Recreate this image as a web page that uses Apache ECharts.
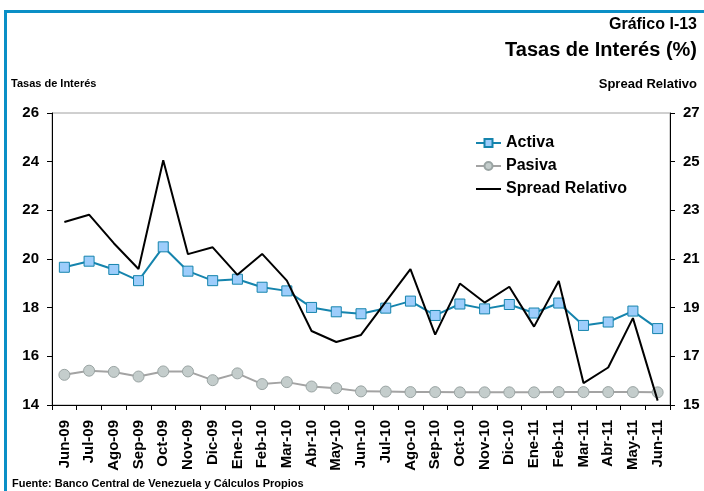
<!DOCTYPE html>
<html>
<head>
<meta charset="utf-8">
<script src="https://cdn.jsdelivr.net/npm/echarts@6/dist/echarts.min.js"></script>
<style>
html,body{margin:0;padding:0;background:#fff;}
#c{width:704px;height:491px;}
</style>
</head>
<body>
<div id="c"></div>
<script>
const categories = ["Jun-09","Jul-09","Ago-09","Sep-09","Oct-09","Nov-09","Dic-09","Ene-10","Feb-10","Mar-10","Abr-10","May-10","Jun-10","Jul-10","Ago-10","Sep-10","Oct-10","Nov-10","Dic-10","Ene-11","Feb-11","Mar-11","Abr-11","May-11","Jun-11"];
const activa = [19.66,19.91,19.57,19.11,20.50,19.50,19.11,19.17,18.84,18.69,18.01,17.83,17.75,17.98,18.27,17.68,18.15,17.95,18.13,17.78,18.19,17.27,17.41,17.86,17.14];
const pasiva = [15.24,15.41,15.36,15.17,15.38,15.38,15.02,15.30,14.86,14.94,14.76,14.69,14.56,14.55,14.53,14.53,14.52,14.52,14.52,14.52,14.53,14.53,14.53,14.53,14.52];
const spread = [22.52,22.82,21.65,20.59,25.06,21.20,21.48,20.35,21.21,20.11,18.04,17.59,17.88,19.24,20.58,17.89,19.99,19.21,19.86,18.22,20.10,15.90,16.54,18.57,15.18];
const leftTicks = {min:14, max:26, interval:2};
const rightTicks = {min:15, max:27, interval:2};

const FONT = '"Liberation Sans", Arial, sans-serif';
const chart = echarts.init(document.getElementById('c'), null, {renderer:'canvas'});
const frameColor = '#0a8fc6';
chart.setOption({
  backgroundColor:'#fff',
  animation:false,
  textStyle:{fontFamily:FONT},
  graphic:[
    {type:'rect', shape:{x:4,y:10,width:700,height:3}, style:{fill:frameColor}},
    {type:'rect', shape:{x:4,y:10,width:3,height:481}, style:{fill:frameColor}},
    {type:'text', right:7, top:17, style:{text:'Gráfico I-13', font:'bold 16px '+FONT, fill:'#000'}},
    {type:'text', right:7, top:40, style:{text:'Tasas de Interés (%)', font:'bold 20px '+FONT, fill:'#000'}},
    {type:'text', left:11, top:78, style:{text:'Tasas de Interés', font:'bold 11px '+FONT, fill:'#000'}},
    {type:'text', right:7, top:78, style:{text:'Spread Relativo', font:'bold 13px '+FONT, fill:'#000'}},
    {type:'text', left:12, top:478, style:{text:'Fuente: Banco Central de Venezuela y Cálculos Propios', font:'bold 11px '+FONT, fill:'#000'}}
  ],
  legend:{
    orient:'vertical', left:470, top:130, itemWidth:25, itemHeight:10, itemGap:7,
    textStyle:{fontFamily:FONT, fontWeight:'bold', fontSize:16, color:'#000'},
    data:['Activa','Pasiva',{name:'Spread Relativo', itemStyle:{opacity:0}}]
  },
  grid:{left:52, right:34, top:113, bottom:86, show:true, borderColor:'#a0a0a0', borderWidth:1, backgroundColor:'transparent'},
  xAxis:{
    type:'category', data:categories, boundaryGap:true,
    axisLine:{lineStyle:{color:'#000', width:1}},
    axisTick:{show:true, inside:false, length:5, lineStyle:{color:'#000'}},
    axisLabel:{rotate:90, interval:0, margin:15, fontFamily:FONT, fontWeight:'bold', fontSize:15, color:'#000'},
    splitLine:{show:false}
  },
  yAxis:[
    {type:'value', position:'left', min:leftTicks.min, max:leftTicks.max, interval:leftTicks.interval,
     axisLine:{show:true, lineStyle:{color:'#000'}},
     axisTick:{show:true, length:5, lineStyle:{color:'#000'}},
     axisLabel:{margin:13, fontFamily:FONT, fontWeight:'bold', fontSize:15, color:'#000'},
     splitLine:{show:false}},
    {type:'value', position:'right', min:rightTicks.min, max:rightTicks.max, interval:rightTicks.interval,
     axisLine:{show:true, lineStyle:{color:'#000'}},
     axisTick:{show:true, length:5, lineStyle:{color:'#000'}},
     axisLabel:{margin:13, fontFamily:FONT, fontWeight:'bold', fontSize:15, color:'#000'},
     splitLine:{show:false}}
  ],
  series:[
    {name:'Activa', type:'line', yAxisIndex:0, data:activa, symbol:'rect', symbolSize:10, showAllSymbol:true,
     lineStyle:{color:'#1584ad', width:2}, itemStyle:{color:'#9dcdfb', borderColor:'#1584ad', borderWidth:1}, z:3},
    {name:'Pasiva', type:'line', yAxisIndex:0, data:pasiva, symbol:'circle', symbolSize:11, showAllSymbol:true,
     lineStyle:{color:'#a3a3a3', width:2}, itemStyle:{color:'#c4cdcc', borderColor:'#9aa4a3', borderWidth:1}, z:2},
    {name:'Spread Relativo', type:'line', yAxisIndex:1, data:spread, symbol:'none', showSymbol:false,
     lineStyle:{color:'#000', width:2}, itemStyle:{color:'#000'}, z:4}
  ]
});
</script>
</body>
</html>
